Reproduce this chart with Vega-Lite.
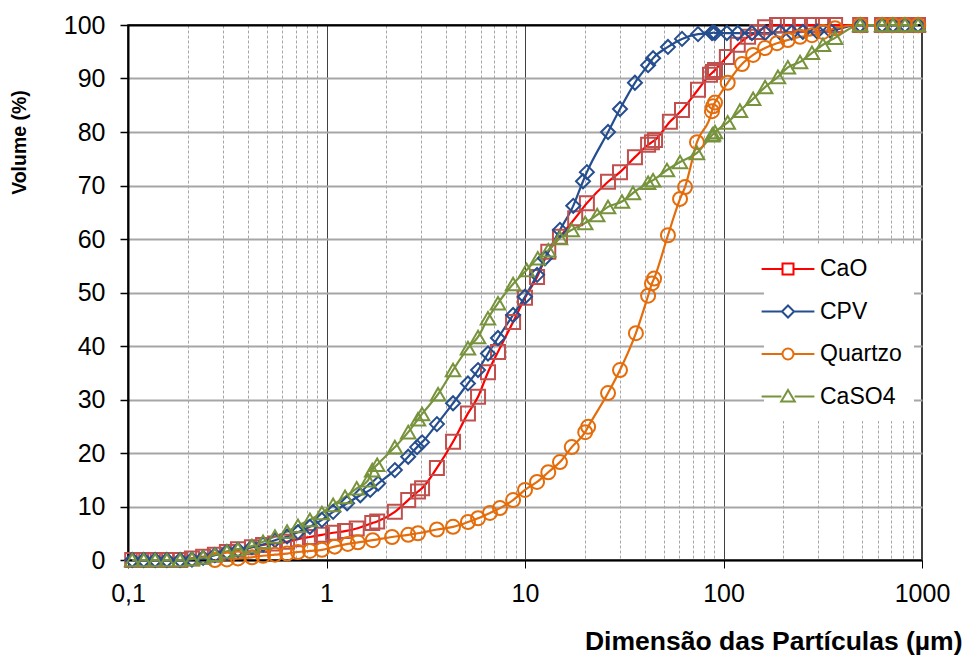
{
  "$schema": "https://vega.github.io/schema/vega-lite/v6.json",
  "width": 794,
  "height": 535,
  "autosize": {"type": "none"},
  "padding": {"left": 128, "top": 25, "right": 41, "bottom": 97},
  "background": "white",
  "config": {
    "font": "Liberation Sans",
    "view": {"stroke": "black", "strokeWidth": 1.5},
    "legend": {
      "orient": "none",
      "legendX": 636,
      "legendY": 220,
      "fillColor": "white",
      "padding": 12,
      "labelFontSize": 23,
      "labelFont": "Liberation Sans",
      "labelColor": "black",
      "labelOffset": 20,
      "rowPadding": 18.5,
      "symbolSize": 484,
      "symbolStrokeWidth": 2,
      "symbolFillColor": "transparent"
    }
  },
  "datasets": {
    "pts": [
      {"s": "CaO", "x": 0.105, "y": 0}, {"s": "CaO", "x": 0.12, "y": 0}, {"s": "CaO", "x": 0.137, "y": 0}, {"s": "CaO", "x": 0.157, "y": 0}, {"s": "CaO", "x": 0.183, "y": 0}, {"s": "CaO", "x": 0.21, "y": 0.3}, {"s": "CaO", "x": 0.239, "y": 0.6}, {"s": "CaO", "x": 0.274, "y": 1.0}, {"s": "CaO", "x": 0.315, "y": 1.5}, {"s": "CaO", "x": 0.358, "y": 2.0}, {"s": "CaO", "x": 0.421, "y": 2.4}, {"s": "CaO", "x": 0.479, "y": 2.8}, {"s": "CaO", "x": 0.55, "y": 3.1}, {"s": "CaO", "x": 0.633, "y": 3.4}, {"s": "CaO", "x": 0.718, "y": 3.9}, {"s": "CaO", "x": 0.825, "y": 4.3}, {"s": "CaO", "x": 0.948, "y": 4.7}, {"s": "CaO", "x": 1.08, "y": 5.1}, {"s": "CaO", "x": 1.24, "y": 5.4}, {"s": "CaO", "x": 1.42, "y": 5.9}, {"s": "CaO", "x": 1.7, "y": 6.9}, {"s": "CaO", "x": 1.8, "y": 7.2}, {"s": "CaO", "x": 2.21, "y": 9.0}, {"s": "CaO", "x": 2.58, "y": 11.2}, {"s": "CaO", "x": 2.89, "y": 12.8}, {"s": "CaO", "x": 3.03, "y": 13.4}, {"s": "CaO", "x": 3.6, "y": 17.2}, {"s": "CaO", "x": 4.34, "y": 22.1}, {"s": "CaO", "x": 5.16, "y": 27.4}, {"s": "CaO", "x": 5.8, "y": 30.5}, {"s": "CaO", "x": 6.51, "y": 35.1}, {"s": "CaO", "x": 7.31, "y": 38.9}, {"s": "CaO", "x": 8.71, "y": 44.5}, {"s": "CaO", "x": 10.0, "y": 49.0}, {"s": "CaO", "x": 11.5, "y": 52.9}, {"s": "CaO", "x": 13.1, "y": 57.6}, {"s": "CaO", "x": 15.0, "y": 60.4}, {"s": "CaO", "x": 17.9, "y": 63.9}, {"s": "CaO", "x": 20.5, "y": 66.7}, {"s": "CaO", "x": 26.2, "y": 70.7}, {"s": "CaO", "x": 30.1, "y": 72.5}, {"s": "CaO", "x": 35.8, "y": 75.3}, {"s": "CaO", "x": 41.7, "y": 77.6}, {"s": "CaO", "x": 43.6, "y": 78.1}, {"s": "CaO", "x": 45.2, "y": 78.5}, {"s": "CaO", "x": 53.7, "y": 81.9}, {"s": "CaO", "x": 61.8, "y": 84.1}, {"s": "CaO", "x": 74.4, "y": 87.9}, {"s": "CaO", "x": 85.5, "y": 90.7}, {"s": "CaO", "x": 88.5, "y": 91.2}, {"s": "CaO", "x": 90.6, "y": 91.6}, {"s": "CaO", "x": 104, "y": 94.0}, {"s": "CaO", "x": 118, "y": 96.3}, {"s": "CaO", "x": 133, "y": 97.8}, {"s": "CaO", "x": 148, "y": 98.7}, {"s": "CaO", "x": 162, "y": 99.6}, {"s": "CaO", "x": 186, "y": 100}, {"s": "CaO", "x": 211, "y": 100}, {"s": "CaO", "x": 243, "y": 100}, {"s": "CaO", "x": 279, "y": 100}, {"s": "CaO", "x": 317, "y": 100}, {"s": "CaO", "x": 365, "y": 100}, {"s": "CaO", "x": 488, "y": 100}, {"s": "CaO", "x": 629, "y": 100}, {"s": "CaO", "x": 714, "y": 100}, {"s": "CaO", "x": 821, "y": 100}, {"s": "CaO", "x": 955, "y": 100},

      {"s": "CPV", "x": 0.105, "y": 0}, {"s": "CPV", "x": 0.12, "y": 0}, {"s": "CPV", "x": 0.137, "y": 0}, {"s": "CPV", "x": 0.157, "y": 0}, {"s": "CPV", "x": 0.183, "y": 0}, {"s": "CPV", "x": 0.21, "y": 0.1}, {"s": "CPV", "x": 0.239, "y": 0.4}, {"s": "CPV", "x": 0.274, "y": 0.9}, {"s": "CPV", "x": 0.315, "y": 1.5}, {"s": "CPV", "x": 0.358, "y": 1.9}, {"s": "CPV", "x": 0.421, "y": 2.4}, {"s": "CPV", "x": 0.479, "y": 2.9}, {"s": "CPV", "x": 0.55, "y": 3.7}, {"s": "CPV", "x": 0.633, "y": 4.4}, {"s": "CPV", "x": 0.718, "y": 5.2}, {"s": "CPV", "x": 0.825, "y": 6.2}, {"s": "CPV", "x": 0.948, "y": 7.5}, {"s": "CPV", "x": 1.08, "y": 9.0}, {"s": "CPV", "x": 1.27, "y": 10.6}, {"s": "CPV", "x": 1.48, "y": 12.1}, {"s": "CPV", "x": 1.66, "y": 13.1}, {"s": "CPV", "x": 1.82, "y": 14.3}, {"s": "CPV", "x": 2.21, "y": 16.8}, {"s": "CPV", "x": 2.58, "y": 19.3}, {"s": "CPV", "x": 2.86, "y": 21.1}, {"s": "CPV", "x": 3.03, "y": 22.0}, {"s": "CPV", "x": 3.6, "y": 25.4}, {"s": "CPV", "x": 4.34, "y": 29.3}, {"s": "CPV", "x": 5.16, "y": 33.0}, {"s": "CPV", "x": 5.8, "y": 35.5}, {"s": "CPV", "x": 6.51, "y": 38.6}, {"s": "CPV", "x": 7.31, "y": 41.5}, {"s": "CPV", "x": 8.71, "y": 45.8}, {"s": "CPV", "x": 10.0, "y": 49.2}, {"s": "CPV", "x": 11.5, "y": 53.3}, {"s": "CPV", "x": 12.6, "y": 56.4}, {"s": "CPV", "x": 15.0, "y": 61.7}, {"s": "CPV", "x": 17.5, "y": 66.2}, {"s": "CPV", "x": 19.6, "y": 70.8}, {"s": "CPV", "x": 20.5, "y": 72.5}, {"s": "CPV", "x": 26.2, "y": 80.0}, {"s": "CPV", "x": 30.1, "y": 84.3}, {"s": "CPV", "x": 35.8, "y": 89.2}, {"s": "CPV", "x": 41.7, "y": 92.5}, {"s": "CPV", "x": 44.2, "y": 93.8}, {"s": "CPV", "x": 52.5, "y": 95.9}, {"s": "CPV", "x": 61.8, "y": 97.4}, {"s": "CPV", "x": 74.4, "y": 98.3}, {"s": "CPV", "x": 87.5, "y": 98.5}, {"s": "CPV", "x": 88.5, "y": 98.6}, {"s": "CPV", "x": 90.6, "y": 98.5}, {"s": "CPV", "x": 104, "y": 98.5}, {"s": "CPV", "x": 118, "y": 98.5}, {"s": "CPV", "x": 139, "y": 98.5}, {"s": "CPV", "x": 162, "y": 98.5}, {"s": "CPV", "x": 193, "y": 98.6}, {"s": "CPV", "x": 221, "y": 98.6}, {"s": "CPV", "x": 251, "y": 98.7}, {"s": "CPV", "x": 296, "y": 98.8}, {"s": "CPV", "x": 344, "y": 99.0}, {"s": "CPV", "x": 488, "y": 100}, {"s": "CPV", "x": 629, "y": 100}, {"s": "CPV", "x": 714, "y": 100}, {"s": "CPV", "x": 821, "y": 100}, {"s": "CPV", "x": 955, "y": 100},

      {"s": "Quartzo", "x": 0.274, "y": 0}, {"s": "Quartzo", "x": 0.315, "y": 0.1}, {"s": "Quartzo", "x": 0.358, "y": 0.3}, {"s": "Quartzo", "x": 0.421, "y": 0.5}, {"s": "Quartzo", "x": 0.479, "y": 0.8}, {"s": "Quartzo", "x": 0.55, "y": 1.0}, {"s": "Quartzo", "x": 0.633, "y": 1.2}, {"s": "Quartzo", "x": 0.718, "y": 1.5}, {"s": "Quartzo", "x": 0.825, "y": 1.7}, {"s": "Quartzo", "x": 0.948, "y": 1.9}, {"s": "Quartzo", "x": 1.1, "y": 2.5}, {"s": "Quartzo", "x": 1.28, "y": 3.0}, {"s": "Quartzo", "x": 1.44, "y": 3.3}, {"s": "Quartzo", "x": 1.71, "y": 3.7}, {"s": "Quartzo", "x": 2.14, "y": 4.3}, {"s": "Quartzo", "x": 2.58, "y": 4.7}, {"s": "Quartzo", "x": 2.89, "y": 5.0}, {"s": "Quartzo", "x": 3.6, "y": 5.7}, {"s": "Quartzo", "x": 4.34, "y": 6.2}, {"s": "Quartzo", "x": 5.16, "y": 7.1}, {"s": "Quartzo", "x": 5.8, "y": 7.8}, {"s": "Quartzo", "x": 6.66, "y": 8.8}, {"s": "Quartzo", "x": 7.48, "y": 9.7}, {"s": "Quartzo", "x": 8.71, "y": 11.2}, {"s": "Quartzo", "x": 10.0, "y": 13.1}, {"s": "Quartzo", "x": 11.5, "y": 14.6}, {"s": "Quartzo", "x": 13.1, "y": 16.4}, {"s": "Quartzo", "x": 15.0, "y": 18.3}, {"s": "Quartzo", "x": 17.2, "y": 21.1}, {"s": "Quartzo", "x": 20.1, "y": 23.9}, {"s": "Quartzo", "x": 20.8, "y": 24.9}, {"s": "Quartzo", "x": 26.2, "y": 31.2}, {"s": "Quartzo", "x": 30.1, "y": 35.5}, {"s": "Quartzo", "x": 36.2, "y": 42.4}, {"s": "Quartzo", "x": 41.7, "y": 49.4}, {"s": "Quartzo", "x": 43.6, "y": 51.7}, {"s": "Quartzo", "x": 44.7, "y": 52.6}, {"s": "Quartzo", "x": 52.5, "y": 60.7}, {"s": "Quartzo", "x": 60.4, "y": 67.5}, {"s": "Quartzo", "x": 64.0, "y": 69.7}, {"s": "Quartzo", "x": 73.5, "y": 78.1}, {"s": "Quartzo", "x": 87.5, "y": 83.9}, {"s": "Quartzo", "x": 88.5, "y": 84.8}, {"s": "Quartzo", "x": 90.6, "y": 85.5}, {"s": "Quartzo", "x": 105, "y": 89.2}, {"s": "Quartzo", "x": 124, "y": 92.7}, {"s": "Quartzo", "x": 141, "y": 94.4}, {"s": "Quartzo", "x": 162, "y": 95.7}, {"s": "Quartzo", "x": 186, "y": 96.6}, {"s": "Quartzo", "x": 211, "y": 97.2}, {"s": "Quartzo", "x": 243, "y": 97.8}, {"s": "Quartzo", "x": 279, "y": 98.1}, {"s": "Quartzo", "x": 317, "y": 98.7}, {"s": "Quartzo", "x": 365, "y": 99.4}, {"s": "Quartzo", "x": 488, "y": 100}, {"s": "Quartzo", "x": 629, "y": 100}, {"s": "Quartzo", "x": 714, "y": 100}, {"s": "Quartzo", "x": 821, "y": 100}, {"s": "Quartzo", "x": 955, "y": 100},

      {"s": "CaSO4", "x": 0.105, "y": 0}, {"s": "CaSO4", "x": 0.12, "y": 0}, {"s": "CaSO4", "x": 0.137, "y": 0}, {"s": "CaSO4", "x": 0.157, "y": 0}, {"s": "CaSO4", "x": 0.183, "y": 0}, {"s": "CaSO4", "x": 0.21, "y": 0.2}, {"s": "CaSO4", "x": 0.239, "y": 0.5}, {"s": "CaSO4", "x": 0.274, "y": 1.0}, {"s": "CaSO4", "x": 0.315, "y": 1.6}, {"s": "CaSO4", "x": 0.358, "y": 2.0}, {"s": "CaSO4", "x": 0.421, "y": 2.6}, {"s": "CaSO4", "x": 0.479, "y": 3.4}, {"s": "CaSO4", "x": 0.55, "y": 4.4}, {"s": "CaSO4", "x": 0.633, "y": 5.3}, {"s": "CaSO4", "x": 0.718, "y": 6.4}, {"s": "CaSO4", "x": 0.825, "y": 7.5}, {"s": "CaSO4", "x": 0.948, "y": 8.8}, {"s": "CaSO4", "x": 1.08, "y": 10.3}, {"s": "CaSO4", "x": 1.24, "y": 11.8}, {"s": "CaSO4", "x": 1.42, "y": 13.4}, {"s": "CaSO4", "x": 1.62, "y": 14.9}, {"s": "CaSO4", "x": 1.7, "y": 16.8}, {"s": "CaSO4", "x": 1.8, "y": 17.8}, {"s": "CaSO4", "x": 2.21, "y": 21.1}, {"s": "CaSO4", "x": 2.58, "y": 23.9}, {"s": "CaSO4", "x": 2.89, "y": 26.3}, {"s": "CaSO4", "x": 3.03, "y": 27.3}, {"s": "CaSO4", "x": 3.65, "y": 31.0}, {"s": "CaSO4", "x": 4.34, "y": 35.5}, {"s": "CaSO4", "x": 5.16, "y": 39.6}, {"s": "CaSO4", "x": 5.8, "y": 41.7}, {"s": "CaSO4", "x": 6.51, "y": 45.2}, {"s": "CaSO4", "x": 7.31, "y": 48.0}, {"s": "CaSO4", "x": 8.71, "y": 51.6}, {"s": "CaSO4", "x": 10.2, "y": 54.2}, {"s": "CaSO4", "x": 11.6, "y": 56.4}, {"s": "CaSO4", "x": 13.1, "y": 57.9}, {"s": "CaSO4", "x": 15.0, "y": 60.2}, {"s": "CaSO4", "x": 17.2, "y": 61.7}, {"s": "CaSO4", "x": 20.1, "y": 63.0}, {"s": "CaSO4", "x": 23.1, "y": 64.5}, {"s": "CaSO4", "x": 26.2, "y": 66.0}, {"s": "CaSO4", "x": 30.8, "y": 67.0}, {"s": "CaSO4", "x": 35.0, "y": 68.6}, {"s": "CaSO4", "x": 41.7, "y": 70.5}, {"s": "CaSO4", "x": 44.2, "y": 71.0}, {"s": "CaSO4", "x": 51.9, "y": 72.9}, {"s": "CaSO4", "x": 60.4, "y": 74.4}, {"s": "CaSO4", "x": 73.5, "y": 76.1}, {"s": "CaSO4", "x": 87.5, "y": 79.4}, {"s": "CaSO4", "x": 88.5, "y": 79.6}, {"s": "CaSO4", "x": 90.6, "y": 80.0}, {"s": "CaSO4", "x": 105, "y": 81.8}, {"s": "CaSO4", "x": 121, "y": 84.0}, {"s": "CaSO4", "x": 141, "y": 86.2}, {"s": "CaSO4", "x": 162, "y": 88.4}, {"s": "CaSO4", "x": 188, "y": 90.3}, {"s": "CaSO4", "x": 211, "y": 92.1}, {"s": "CaSO4", "x": 243, "y": 93.1}, {"s": "CaSO4", "x": 279, "y": 94.8}, {"s": "CaSO4", "x": 317, "y": 96.3}, {"s": "CaSO4", "x": 365, "y": 97.6}, {"s": "CaSO4", "x": 488, "y": 100}, {"s": "CaSO4", "x": 629, "y": 100}, {"s": "CaSO4", "x": 714, "y": 100}, {"s": "CaSO4", "x": 821, "y": 100}, {"s": "CaSO4", "x": 955, "y": 100}
    ]
  },
  "data": {"name": "pts"},
  "encoding": {
    "x": {
      "field": "x",
      "type": "quantitative",
      "scale": {"type": "log", "domain": [0.1, 1000], "nice": false},
      "axis": {
        "values": [0.1, 0.2, 0.3, 0.4, 0.5, 0.6, 0.7, 0.8, 0.9, 1, 2, 3, 4, 5, 6, 7, 8, 9, 10, 20, 30, 40, 50, 60, 70, 80, 90, 100, 200, 300, 400, 500, 600, 700, 800, 900, 1000],
        "title": "Dimensão das Partículas (µm)",
        "titleFontSize": 26.5,
        "titleFontWeight": "bold",
        "titleColor": "black",
        "titleAlign": "right",
        "titleX": 834,
        "titleY": 89,
        "titleBaseline": "alphabetic",
        "labelExpr": "abs(log(datum.value)/LN10 - round(log(datum.value)/LN10)) < 0.001 ? replace(toString(datum.value), '.', ',') : ''",
        "labelFontSize": 25,
        "labelColor": "black",
        "labelPadding": 13,
        "labelFlush": false,
        "labelOverlap": false,
        "labelBound": false,
        "domainColor": "black",
        "domainWidth": 2,
        "tickSize": 8,
        "tickWidth": 1,
        "tickColor": {"condition": {"test": "abs(log(datum.value)/LN10 - round(log(datum.value)/LN10)) < 0.001", "value": "black"}, "value": "transparent"},
        "grid": true,
        "gridColor": {"condition": {"test": "abs(log(datum.value)/LN10 - round(log(datum.value)/LN10)) < 0.001", "value": "#404040"}, "value": "#A6A6A6"},
        "gridDash": {"condition": {"test": "abs(log(datum.value)/LN10 - round(log(datum.value)/LN10)) < 0.001", "value": []}, "value": [3, 2]},
        "gridWidth": 1
      }
    },
    "y": {
      "field": "y",
      "type": "quantitative",
      "scale": {"domain": [0, 100], "nice": false},
      "axis": {
        "values": [0, 10, 20, 30, 40, 50, 60, 70, 80, 90, 100],
        "title": "Volume (%)",
        "titleFontSize": 19.5,
        "titleFontWeight": "bold",
        "titleColor": "black",
        "titleAngle": -90,
        "titleAlign": "center",
        "titleBaseline": "alphabetic",
        "titleX": -103,
        "titleY": 117,
        "labelFontSize": 25,
        "labelColor": "black",
        "labelPadding": 15,
        "tickSize": 8,
        "tickWidth": 1.5,
        "tickColor": "black",
        "domainColor": "black",
        "domainWidth": 2,
        "grid": true,
        "gridColor": {"condition": {"test": "datum.value == 100", "value": "black"}, "value": "#A6A6A6"},
        "gridWidth": 2
      }
    }
  },
  "layer": [
    {
      "mark": {"type": "line", "interpolate": "monotone", "strokeWidth": 2.2, "clip": false},
      "encoding": {
        "color": {
          "field": "s",
          "type": "nominal",
          "scale": {"domain": ["CaO", "CPV", "Quartzo", "CaSO4"], "range": ["#FF0000", "#254E8F", "#E46C0A", "#77933C"]},
          "legend": {
            "title": null,
            "encode": {
              "symbols": {
                "update": {
                  "shape": {"signal": "datum.value === 'CaO' ? 'M-2.4,0H-0.5M0.5,0H2.4M-0.5,-0.5H0.5V0.5H-0.5Z' : datum.value === 'CPV' ? 'M-2.4,0H-0.55M0.55,0H2.4M0,-0.55L0.55,0L0,0.55L-0.55,0Z' : datum.value === 'Quartzo' ? 'M-2.4,0H-0.5M0.5,0H2.4M-0.5,0A0.5,0.5 0 1,0 0.5,0A0.5,0.5 0 1,0 -0.5,0Z' : 'M-2.4,0H-0.6M0.6,0H2.4M0,-0.6L0.62,0.45H-0.62Z'"},
                  "fill": {"value": "transparent"},
                  "strokeWidth": {"value": 2}
                }
              }
            }
          }
        }
      }
    },
    {
      "transform": [{"filter": {"field": "s", "equal": "CaO"}}],
      "mark": {"type": "point", "shape": "square", "filled": false, "stroke": "#C0504D", "strokeWidth": 2, "size": 196, "opacity": 1, "clip": false}
    },
    {
      "transform": [{"filter": {"field": "s", "equal": "CPV"}}],
      "mark": {"type": "point", "shape": "diamond", "filled": false, "stroke": "#254E8F", "strokeWidth": 2, "size": 196, "opacity": 1, "clip": false}
    },
    {
      "transform": [{"filter": {"field": "s", "equal": "Quartzo"}}],
      "mark": {"type": "point", "shape": "circle", "filled": false, "stroke": "#E46C0A", "strokeWidth": 2, "size": 196, "opacity": 1, "clip": false}
    },
    {
      "transform": [{"filter": {"field": "s", "equal": "CaSO4"}}],
      "mark": {"type": "point", "shape": "triangle-up", "filled": false, "stroke": "#77933C", "strokeWidth": 2, "size": 210, "opacity": 1, "clip": false}
    }
  ]
}
